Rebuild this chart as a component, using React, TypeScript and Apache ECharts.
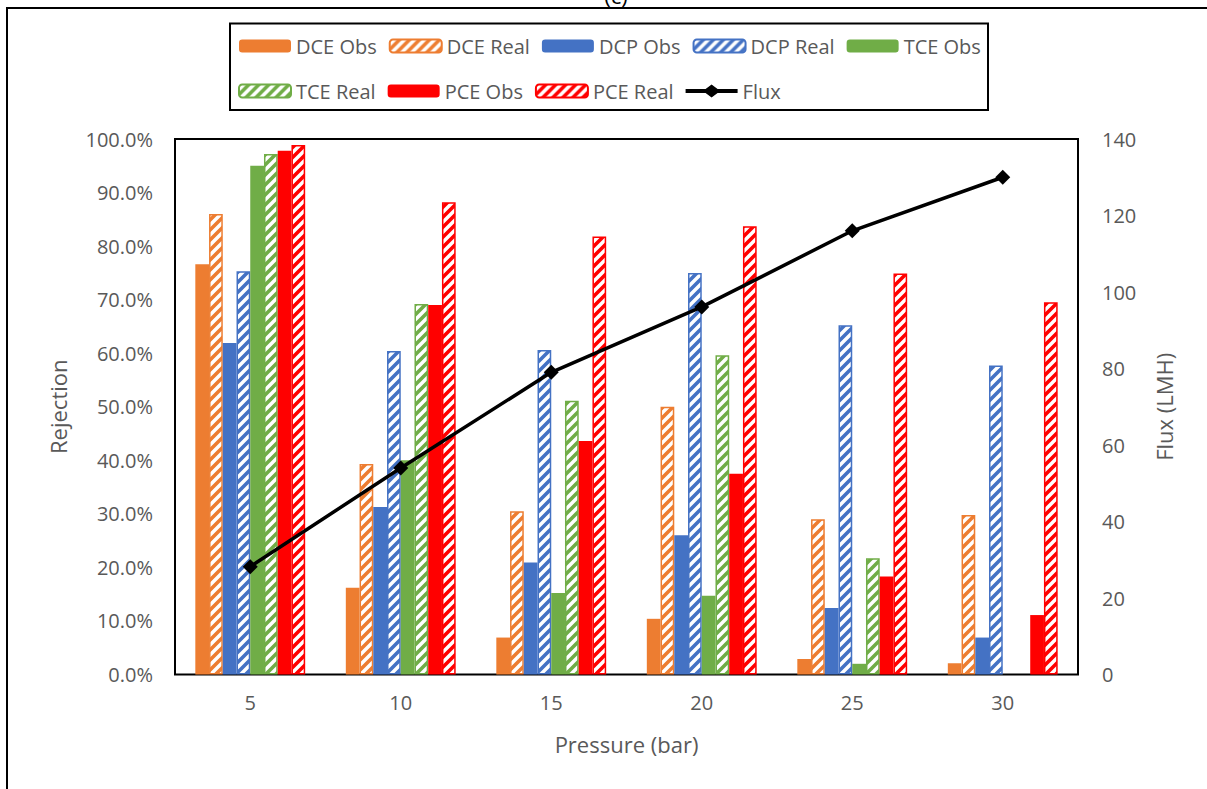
import React, { useEffect, useRef } from 'react';
import * as echarts from 'echarts';

const pressures = ['5', '10', '15', '20', '25', '30'];
const dceObs = [76.6, 16.2, 6.9, 10.4, 2.9, 2.1];
const dceReal = [86.0, 39.3, 30.5, 50.0, 29.0, 29.8];
const dcpObs = [61.9, 31.3, 20.9, 26.0, 12.4, 6.9];
const dcpReal = [75.3, 60.4, 60.6, 75.0, 65.2, 57.7];
const tceObs = [95.0, 40.0, 15.2, 14.7, 2.0, null];
const tceReal = [97.2, 69.2, 51.1, 59.6, 21.7, null];
const pceObs = [97.8, 69.0, 43.6, 37.5, 18.3, 11.1];
const pceReal = [98.9, 88.2, 81.8, 83.7, 74.9, 69.5];
const flux = [28.2, 54.0, 79.0, 96.1, 116.0, 130.0];

const ORANGE = '#ED7D31';
const BLUE = '#4472C4';
const GREEN = '#70AD47';
const RED = '#FF0000';
const GREY = '#595959';
const FONT = 'Open Sans';

function hatch(color: string) {
  const s = 10;
  const c = document.createElement('canvas');
  c.width = s;
  c.height = s;
  const ctx = c.getContext('2d')!;
  ctx.fillStyle = '#ffffff';
  ctx.fillRect(0, 0, s, s);
  ctx.strokeStyle = color;
  ctx.lineWidth = 3.6;
  ctx.beginPath();
  ctx.moveTo(-3, s + 3);
  ctx.lineTo(s + 3, -3);
  ctx.moveTo(-3, 3);
  ctx.lineTo(3, -3);
  ctx.moveTo(s - 3, s + 3);
  ctx.lineTo(s + 3, s - 3);
  ctx.stroke();
  return { image: c.toDataURL(), repeat: 'repeat', imageWidth: s, imageHeight: s } as any;
}

function obsBar(name: string, data: (number | null)[], color: string) {
  return {
    type: 'bar',
    name,
    data,
    barGap: '0%',
    barCategoryGap: '27%',
    itemStyle: { color },
  };
}

function realBar(name: string, data: (number | null)[], color: string) {
  return {
    type: 'bar',
    name,
    data,
    barGap: '0%',
    barCategoryGap: '27%',
    itemStyle: { color: hatch(color), borderColor: color, borderWidth: 1.5 },
  };
}

const FLUX_ICON =
  'path://M0,4.5 L20,4.5 L26,0 L32,4.5 L52,4.5 L52,8.5 L32,8.5 L26,13 L20,8.5 L0,8.5 Z';

export default function App() {
  const ref = useRef<HTMLDivElement>(null);
  useEffect(() => {
    if (!ref.current) return;
    const chart = echarts.init(ref.current, null, { renderer: 'svg' });
    chart.setOption({
      animation: false,
      backgroundColor: '#ffffff',
      textStyle: { fontFamily: FONT },
      graphic: [
        {
          type: 'rect',
          shape: { x: 7, y: 8, width: 1400, height: 1000 },
          style: { fill: 'none', stroke: '#000', lineWidth: 2 },
          silent: true,
        },
        {
          type: 'rect',
          shape: { x: 230, y: 23.5, width: 758, height: 86.5 },
          style: { fill: 'none', stroke: '#000', lineWidth: 2 },
          silent: true,
        },
        {
          type: 'text',
          x: 616,
          y: -16,
          style: { text: '(c)', fontSize: 22, fontFamily: FONT, fill: '#000', textAlign: 'center' },
          silent: true,
        },
      ],
      legend: {
        left: 238,
        top: 29.5,
        width: 745,
        padding: 0,
        itemGap: 12,
        itemWidth: 52,
        itemHeight: 13,
        textStyle: { fontFamily: FONT, fontSize: 20, color: GREY, lineHeight: 33 },
        data: [
          'DCE Obs',
          'DCE Real',
          'DCP Obs',
          'DCP Real',
          'TCE Obs',
          'TCE Real',
          'PCE Obs',
          'PCE Real',
          { name: 'Flux', icon: FLUX_ICON, itemStyle: { color: '#000' } },
        ],
      },
      grid: {
        left: 175,
        top: 139,
        right: 129,
        bottom: 114.5,
        show: true,
        borderColor: '#000',
        borderWidth: 2,
        backgroundColor: 'transparent',
      },
      xAxis: {
        type: 'category',
        data: pressures,
        axisTick: { show: false },
        axisLine: { show: false },
        axisLabel: { fontSize: 20, color: GREY, margin: 18, fontFamily: FONT },
        name: 'Pressure (bar)',
        nameLocation: 'middle',
        nameGap: 58,
        nameTextStyle: { fontSize: 22, color: GREY, fontFamily: FONT },
      },
      yAxis: [
        {
          type: 'value',
          min: 0,
          max: 100,
          interval: 10,
          axisLine: { show: false },
          axisTick: { show: false },
          splitLine: { show: false },
          axisLabel: {
            fontSize: 20,
            color: GREY,
            margin: 22,
            fontFamily: FONT,
            formatter: (v: number) => v.toFixed(1) + '%',
          },
          name: 'Rejection',
          nameLocation: 'middle',
          nameRotate: 90,
          nameGap: 106,
          nameTextStyle: { fontSize: 22, color: GREY, fontFamily: FONT },
        },
        {
          type: 'value',
          position: 'right',
          min: 0,
          max: 140,
          interval: 20,
          axisLine: { show: false },
          axisTick: { show: false },
          splitLine: { show: false },
          axisLabel: { fontSize: 20, color: GREY, margin: 24, fontFamily: FONT },
          name: 'Flux (LMH)',
          nameLocation: 'middle',
          nameRotate: 90,
          nameGap: 75,
          nameTextStyle: { fontSize: 22, color: GREY, fontFamily: FONT },
        },
      ],
      series: [
        obsBar('DCE Obs', dceObs, ORANGE),
        realBar('DCE Real', dceReal, ORANGE),
        obsBar('DCP Obs', dcpObs, BLUE),
        realBar('DCP Real', dcpReal, BLUE),
        obsBar('TCE Obs', tceObs, GREEN),
        realBar('TCE Real', tceReal, GREEN),
        obsBar('PCE Obs', pceObs, RED),
        realBar('PCE Real', pceReal, RED),
        {
          type: 'line',
          name: 'Flux',
          yAxisIndex: 1,
          data: flux,
          symbol: 'diamond',
          symbolSize: 15,
          lineStyle: { color: '#000', width: 3.5 },
          itemStyle: { color: '#000' },
          z: 5,
        },
      ],
    });
    return () => chart.dispose();
  }, []);
  return (
    <div
      ref={ref}
      style={{ position: 'fixed', left: 0, top: 0, width: 1207, height: 789, background: '#fff' }}
    />
  );
}
